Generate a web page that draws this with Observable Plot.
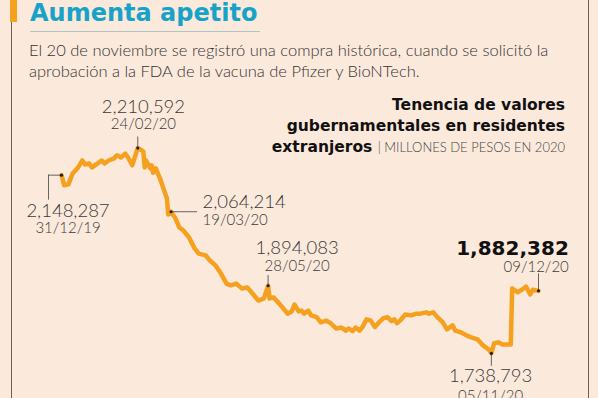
<!DOCTYPE html>
<html lang="es">
<head>
<meta charset="utf-8">
<script src="https://cdn.jsdelivr.net/npm/d3@7"></script>
<script src="https://cdn.jsdelivr.net/npm/@observablehq/plot@0.6"></script>
<style>
  html, body { margin: 0; padding: 0; background: #fbe9dc; }
  body { width: 598px; height: 398px; position: relative; overflow: hidden; font-family: Lato, "Liberation Sans", sans-serif; }
  #bar { position: absolute; left: 10px; top: 0; width: 7px; height: 22px; background: #f5a01e; }
  #frameL { position: absolute; left: 11px; top: 22px; width: 1px; height: 376px; background: #6e5f56; }
  #frameR { position: absolute; left: 588px; top: 0; width: 1px; height: 398px; background: #6e5f56; }
  #title { position: absolute; left: 30px; top: 0; font: bold 24px/27px "DejaVu Sans", sans-serif; color: #17a2c8; white-space: nowrap; }
  #rule { position: absolute; left: 30px; top: 31px; width: 230px; height: 1px; background: #adc6ca; }
  #sub { position: absolute; left: 29px; top: 40px; width: 565px; font-size: 16.5px; line-height: 20.5px; font-weight: 300; color: #333; white-space: nowrap; }
  #ctitle { position: absolute; right: 33px; top: 95px; text-align: right; font: bold 15.5px/21px "DejaVu Sans", sans-serif; color: #111; white-space: nowrap; }
  #ctitle .unit { font-family: Lato, "Liberation Sans", sans-serif; font-weight: 300; font-size: 13px; color: #444; }
  #chart { position: absolute; left: 0; top: 0; }
</style>
</head>
<body>
<div id="bar"></div>
<div id="frameL"></div>
<div id="frameR"></div>
<div id="title">Aumenta apetito</div>
<div id="rule"></div>
<div id="sub">El 20 de noviembre se registró una compra histórica, cuando se solicitó la<br>aprobación a la FDA de la vacuna de Pfizer y BioNTech.</div>
<div id="ctitle">Tenencia de valores<br>gubernamentales en residentes<br>extranjeros <span class="unit">| MILLONES DE PESOS EN 2020</span></div>
<div id="chart"></div>
<script>
// ---- data ----
const dates = [
  "2019-12-31","2020-01-02","2020-01-05","2020-01-08","2020-01-12","2020-01-15","2020-01-17","2020-01-20",
  "2020-01-22","2020-01-25","2020-01-29","2020-01-31","2020-02-03","2020-02-07","2020-02-09","2020-02-12",
  "2020-02-15","2020-02-17","2020-02-20","2020-02-24","2020-02-26","2020-02-28","2020-02-29","2020-03-01",
  "2020-03-04","2020-03-05","2020-03-06","2020-03-08","2020-03-11","2020-03-14","2020-03-16","2020-03-17",
  "2020-03-19","2020-03-22","2020-03-25","2020-03-28","2020-04-01","2020-04-05","2020-04-08","2020-04-13",
  "2020-04-16","2020-04-20","2020-04-24","2020-04-28","2020-05-01","2020-05-05","2020-05-09","2020-05-13",
  "2020-05-16","2020-05-21","2020-05-25","2020-05-28","2020-05-29","2020-06-01","2020-06-05","2020-06-08",
  "2020-06-11","2020-06-14","2020-06-16","2020-06-19","2020-06-21","2020-06-23","2020-06-26","2020-06-28",
  "2020-07-02","2020-07-05","2020-07-09","2020-07-12","2020-07-16","2020-07-20","2020-07-23","2020-07-25",
  "2020-07-28","2020-07-30","2020-08-02","2020-08-04","2020-08-07","2020-08-10","2020-08-13","2020-08-16",
  "2020-08-19","2020-08-22","2020-08-25","2020-08-27","2020-08-29","2020-09-01","2020-09-04","2020-09-08",
  "2020-09-12","2020-09-15","2020-09-19","2020-09-21","2020-09-24","2020-09-27","2020-10-01","2020-10-04",
  "2020-10-08","2020-10-10","2020-10-14","2020-10-18","2020-10-21","2020-10-26","2020-10-30","2020-11-03",
  "2020-11-05","2020-11-07","2020-11-10","2020-11-13","2020-11-18","2020-11-19","2020-11-20","2020-11-24",
  "2020-11-27","2020-11-30","2020-12-03","2020-12-05","2020-12-09"
];
const values = [
  2148287,2125000,2127000,2152000,2166000,2182000,2173000,2175000,
  2166000,2173000,2182000,2175000,2182000,2187000,2194000,2189000,
  2198000,2189000,2171000,2210592,2207000,2203000,2166000,2182000,
  2164000,2171000,2154000,2164000,2141000,2113000,2095000,2058000,
  2064214,2050000,2028000,2021000,2005000,1980000,1968000,1964000,
  1952000,1941000,1922000,1899000,1895000,1899000,1888000,1890000,
  1879000,1860000,1865000,1894083,1865000,1867000,1853000,1842000,
  1830000,1835000,1851000,1835000,1837000,1830000,1837000,1826000,
  1822000,1810000,1814000,1808000,1796000,1798000,1791000,1796000,
  1790000,1798000,1791000,1799000,1817000,1814000,1799000,1810000,
  1819000,1822000,1813000,1817000,1808000,1817000,1828000,1826000,
  1830000,1830000,1833000,1830000,1833000,1822000,1810000,1794000,
  1803000,1791000,1787000,1780000,1776000,1771000,1757000,1748000,
  1738793,1762000,1764000,1759000,1759000,1759000,1888000,1879000,
  1885000,1892000,1874000,1885000,1882382
];
const annotDates = ["2019-12-31","2020-02-24","2020-03-19","2020-05-28","2020-11-05","2020-12-09"];
const annotValues = [2148287, 2210592, 2064214, 1894083, 1738793, 1882382];
const annotDateLabels = ["31/12/19","24/02/20","19/03/20","28/05/20","05/11/20","09/12/20"];

// ---- build ----
const parse = d3.utcParse("%Y-%m-%d");
const fmt = d3.format(",");
const series = dates.map((d, i) => ({date: parse(d), value: values[i]}));
const annots = annotDates.map((d, i) => ({
  date: parse(d), value: annotValues[i], label: fmt(annotValues[i]), dateLabel: annotDateLabels[i]
}));

const FONT = "Lato, 'Liberation Sans', sans-serif";
const TXT = "#3a3a3a";
const LEAD = "#555";

// label placement (style, relative to each annotated point)
const layout = [
  {anchor: "middle", dx: 6.5,  dyV: 42.3,  dyD: 58.3},
  {anchor: "middle", dx: 5.7,  dyV: -34.6, dyD: -18.6},
  {anchor: "start",  dx: 31.5, dyV: -3.3,  dyD: 13.7},
  {anchor: "middle", dx: 29,   dyV: -31.3, dyD: -14.3},
  {anchor: "middle", dx: -0.8, dyV: 28.9,  dyD: 47.5},
  {anchor: "end",    dx: 30.3, dyV: -36,   dyD: -18.7, bold: true}
];

const textMarks = [];
annots.forEach((a, i) => {
  const L = layout[i];
  textMarks.push(Plot.text([a], {
    x: "date", y: "value", text: "label", textAnchor: L.anchor, lineAnchor: "bottom",
    dx: L.dx, dy: L.dyV,
    fontFamily: L.bold ? "'DejaVu Sans', sans-serif" : FONT,
    fontWeight: L.bold ? "bold" : 300,
    fontSize: L.bold ? 20 : 18.5,
    fill: L.bold ? "#111" : TXT
  }));
  textMarks.push(Plot.text([a], {
    x: "date", y: "value", text: "dateLabel", textAnchor: L.anchor, lineAnchor: "bottom",
    dx: L.dx, dy: L.dyD, fontFamily: FONT, fontWeight: 300, fontSize: 15, fill: TXT
  }));
});

const leaderStyle = {stroke: LEAD, strokeWidth: 0.9};
const leaders = [
  Plot.ruleY([annots[0]], {x1: "date", x2: "date", y: "value", insetLeft: -13, ...leaderStyle}),
  Plot.ruleX([annots[0]], {x: "date", y1: "value", y2: "value", dx: -13, insetTop: 25, ...leaderStyle}),
  Plot.ruleX([annots[1]], {x: "date", y1: "value", y2: "value", insetBottom: 11, ...leaderStyle}),
  Plot.ruleY([annots[2]], {x1: "date", x2: "date", y: "value", insetRight: -26.5, ...leaderStyle}),
  Plot.ruleX([annots[3]], {x: "date", y1: "value", y2: "value", insetBottom: 10.3, ...leaderStyle}),
  Plot.ruleX([annots[4]], {x: "date", y1: "value", y2: "value", insetTop: 13, ...leaderStyle}),
  Plot.ruleX([annots[5]], {x: "date", y1: "value", y2: "value", insetBottom: 17, ...leaderStyle})
];

const chart = Plot.plot({
  width: 598,
  height: 398,
  marginLeft: 61,
  marginRight: 60,
  marginTop: 130.4,
  marginBottom: 28.3,
  style: {background: "transparent", overflow: "visible"},
  x: {type: "utc", domain: [parse("2019-12-31"), parse("2020-12-09")], axis: null},
  y: {domain: [1700000, 2250000], axis: null},
  marks: [
    Plot.lineY(series, {x: "date", y: "value", stroke: "#f5a01e", strokeWidth: 4.5,
      strokeLinejoin: "round", strokeLinecap: "round"}),
    ...leaders,
    Plot.dot(annots, {x: "date", y: "value", r: 1.6, fill: "#222"}),
    ...textMarks
  ]
});
document.getElementById("chart").appendChild(chart);
</script>
</body>
</html>
